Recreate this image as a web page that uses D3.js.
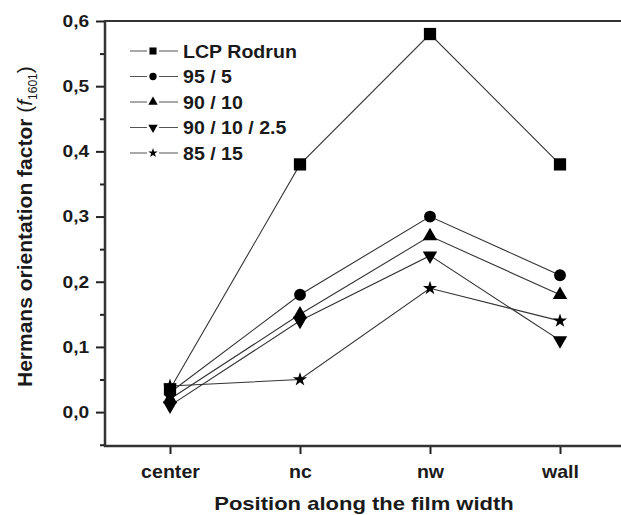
<!DOCTYPE html>
<html><head><meta charset="utf-8">
<script src="https://cdn.jsdelivr.net/npm/d3@7"></script>
<style>body{margin:0;background:#fff}svg{display:block}text{font-family:"Liberation Sans",Arial,sans-serif;font-weight:bold;fill:#1a1a1a}</style>
</head><body>
<script>
const categories = ["center","nc","nw","wall"];
const seriesNames = ["LCP Rodrun","95 / 5","90 / 10","90 / 10 / 2.5","85 / 15"];
const lcp = [0.035,0.38,0.58,0.38];
const s95_5 = [0.03,0.18,0.30,0.21];
const s90_10 = [0.02,0.15,0.27,0.18];
const s90_10_25 = [0.01,0.14,0.24,0.11];
const s85_15 = [0.04,0.05,0.19,0.14];
const yTicks = [0.0,0.1,0.2,0.3,0.4,0.5,0.6];
const yMinor = [-0.05,0.05,0.15,0.25,0.35,0.45,0.55];
const symbolsList = ["square","circle","triangle","triangleDown","star"];

(function(){
const series = [lcp,s95_5,s90_10,s90_10_25,s85_15];
const W=621,H=515;
const svg=d3.select("body").append("svg").attr("width",W).attr("height",H);
const mL=105, mT=21, mB=446, mR=625;
const x=d3.scaleLinear().domain([-0.5,3.5]).range([mL,mR]);
const y=d3.scaleLinear().domain([-0.052,0.6]).range([mB,mT]);
const ink="#222";

svg.append("line").attr("x1",mL).attr("x2",W).attr("y1",mT).attr("y2",mT).attr("stroke","#333").attr("stroke-width",2);

const yAxis=svg.append("g").attr("transform",`translate(${mL},0)`)
  .call(d3.axisLeft(y).tickValues(yTicks).tickSize(9).tickPadding(5).tickFormat(d=>d3.format(".1f")(d).replace(".",",")));
yAxis.select(".domain").remove();
yAxis.selectAll("line").attr("stroke",ink).attr("stroke-width",2);
yAxis.selectAll("text").style("font-size","17px").attr("fill",ink).attr("transform","scale(1.13,1)");
const yMin=svg.append("g").attr("transform",`translate(${mL},0)`)
  .call(d3.axisLeft(y).tickValues(yMinor).tickSize(5).tickFormat(""));
yMin.select(".domain").remove();
yMin.selectAll("line").attr("stroke",ink).attr("stroke-width",2);
svg.append("line").attr("x1",mL).attr("x2",mL).attr("y1",mT-1).attr("y2",mB+1).attr("stroke","#333").attr("stroke-width",2.5);

const xAxis=svg.append("g").attr("transform",`translate(0,${mB})`)
  .call(d3.axisBottom(x).tickValues([0,1,2,3]).tickSize(8).tickPadding(0).tickFormat(i=>categories[i]));
xAxis.select(".domain").remove();
xAxis.selectAll("line").attr("stroke",ink).attr("stroke-width",2);
xAxis.selectAll("text").style("font-size","18.5px").attr("fill",ink).attr("dy",null).attr("y",32).attr("transform","scale(1.06,1)");
svg.append("line").attr("x1",mL-1).attr("x2",W).attr("y1",mB).attr("y2",mB).attr("stroke","#333").attr("stroke-width",2.5);

const symMap={square:d3.symbolSquare,circle:d3.symbolCircle,triangle:d3.symbolTriangle,triangleDown:d3.symbolTriangle,star:d3.symbolStar};
const symSize={square:150,circle:110,triangle:90,triangleDown:90,star:62};
const legSize={square:50,circle:42,triangle:38,triangleDown:38,star:28};
function sym(g,name,size){
  return g.append("path").attr("d",d3.symbol().type(symMap[name]).size(size)()).attr("fill","#000");
}
const line=d3.line().x((d,i)=>x(i)).y(d=>y(d));
series.forEach((vals,k)=>{
  svg.append("path").attr("d",line(vals)).attr("fill","none").attr("stroke","#333").attr("stroke-width",1.1);
});
series.forEach((vals,k)=>{
  vals.forEach((v,i)=>{
    const g=svg.append("g").attr("transform",`translate(${x(i)},${y(v)})`+(symbolsList[k]==="triangleDown"?" rotate(180)":""));
    sym(g,symbolsList[k],symSize[symbolsList[k]]);
  });
});

seriesNames.forEach((n,k)=>{
  const ly=51+k*25.5;
  svg.append("line").attr("x1",130).attr("x2",178).attr("y1",ly).attr("y2",ly).attr("stroke","#555").attr("stroke-width",1.1);
  const g=svg.append("g").attr("transform",`translate(153,${ly})`+(symbolsList[k]==="triangleDown"?" rotate(180)":""));
  g.append("rect").attr("x",-6).attr("y",-6).attr("width",12).attr("height",12).attr("fill","#fff");
  sym(g,symbolsList[k],legSize[symbolsList[k]]);
  svg.append("text").attr("transform",`translate(183,${ly+6.5}) scale(1.12,1)`).style("font-size","17.5px").text(n);
});

svg.append("text").attr("transform","translate(364,510) scale(1.19,1)").attr("text-anchor","middle").style("font-size","18.5px").text("Position along the film width");
const yt=svg.append("text").attr("transform","translate(32,387) rotate(-90)").attr("text-anchor","start").style("font-size","21px");
yt.append("tspan").text("Hermans orientation factor ");
yt.append("tspan").attr("font-weight","normal").text("(");
yt.append("tspan").attr("font-style","italic").attr("font-weight","normal").text("f");
yt.append("tspan").attr("font-weight","normal").style("font-size","12px").attr("dy",5).text("1601");
yt.append("tspan").attr("dy",-5).attr("font-weight","normal").text(")");
})();
</script>
</body></html>
